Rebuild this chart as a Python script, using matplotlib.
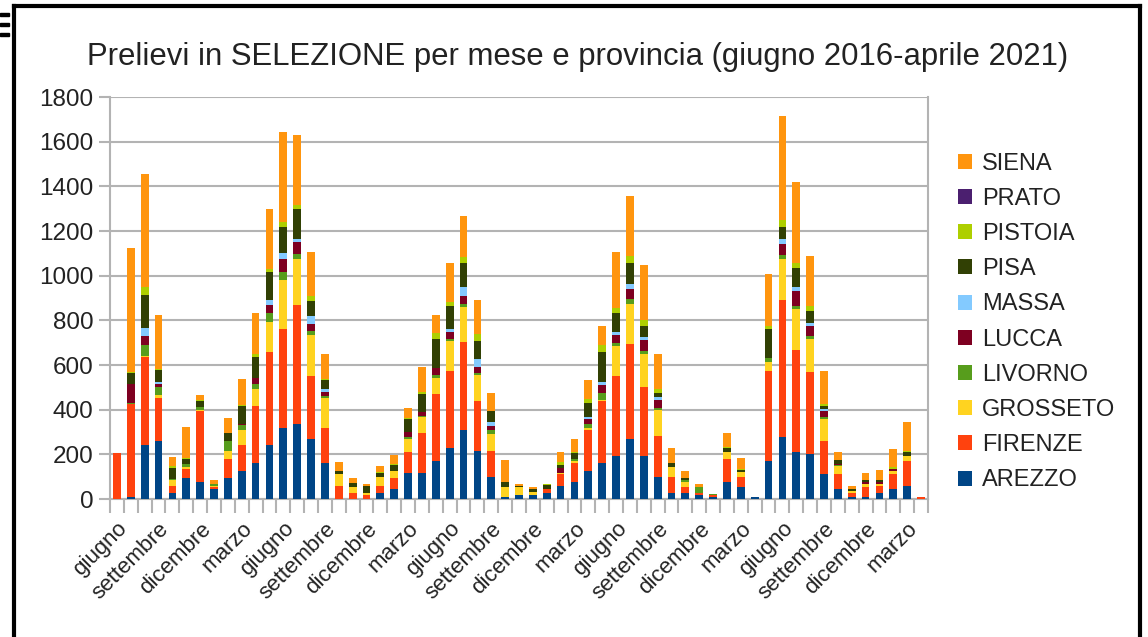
import matplotlib.pyplot as plt
from matplotlib.patches import Rectangle, Patch
from matplotlib.lines import Line2D
import numpy as np

plt.rcParams['font.family'] = ['Liberation Sans', 'DejaVu Sans']

# months giugno 2016 .. aprile 2021 (59 bars)
mesi = ['giugno', 'luglio', 'agosto', 'settembre', 'ottobre', 'novembre',
        'dicembre', 'gennaio', 'febbraio', 'marzo', 'aprile', 'maggio']
n_mesi = 59
month_labels = [mesi[i % 12] for i in range(n_mesi)]

province = ['AREZZO', 'FIRENZE', 'GROSSETO', 'LIVORNO', 'LUCCA',
            'MASSA', 'PISA', 'PISTOIA', 'PRATO', 'SIENA']
colori = ['#004586', '#ff420e', '#ffd320', '#579d1c', '#7e0021',
          '#83caff', '#314004', '#aecf00', '#4b1f6f', '#ff950e']

arezzo = [0, 10, 242, 260, 25, 94, 78, 43, 94, 127, 160, 242,
          317, 335, 268, 160, 0, 0, 0, 25, 43, 118, 118, 170,
          227, 309, 217, 100, 10, 18, 18, 25, 60, 78, 127, 160,
          193, 268, 193, 100, 25, 25, 18, 10, 78, 52, 10, 170,
          277, 209, 202, 111, 43, 10, 10, 25, 43, 60, 0]
firenze = [205, 416, 393, 191, 34, 40, 314, 12, 84, 115, 257, 416,
           444, 532, 284, 157, 60, 25, 18, 33, 49, 91, 176, 299,
           348, 392, 224, 117, 0, 0, 0, 18, 51, 82, 182, 277,
           359, 426, 308, 184, 75, 27, 10, 7, 100, 48, 0, 405,
           616, 459, 366, 149, 67, 18, 42, 34, 67, 108, 10]
grosseto = [0, 0, 6, 15, 25, 10, 7, 4, 39, 67, 75, 135,
            221, 208, 181, 135, 51, 27, 7, 42, 34, 58, 75, 72,
            133, 157, 115, 75, 42, 34, 15, 0, 7, 10, 10, 7,
            132, 181, 150, 115, 42, 25, 0, 0, 31, 19, 0, 40,
            182, 182, 148, 99, 39, 9, 15, 10, 16, 25, 0]
livorno = [0, 5, 49, 34, 4, 12, 15, 6, 43, 22, 24, 40,
           33, 24, 18, 7, 0, 0, 0, 0, 0, 9, 3, 15,
           7, 16, 10, 18, 0, 0, 0, 0, 0, 7, 15, 30,
           15, 22, 10, 7, 0, 8, 24, 7, 0, 3, 0, 18,
           16, 16, 16, 7, 4, 0, 0, 0, 0, 0, 0]
lucca = [0, 85, 42, 15, 0, 0, 0, 0, 0, 7, 25, 37,
         60, 51, 33, 18, 0, 0, 4, 0, 0, 25, 18, 30,
         34, 33, 27, 15, 0, 0, 0, 0, 19, 0, 24, 37,
         34, 43, 49, 37, 0, 0, 0, 0, 0, 0, 0, 0,
         51, 66, 43, 28, 4, 0, 10, 7, 10, 0, 0]
massa = [0, 0, 33, 10, 0, 0, 0, 0, 0, 0, 0, 22,
         27, 16, 34, 15, 0, 0, 0, 0, 0, 0, 0, 0,
         10, 42, 33, 18, 0, 0, 0, 0, 0, 0, 7, 15,
         15, 24, 15, 15, 0, 0, 0, 0, 0, 0, 0, 0,
         22, 16, 15, 7, 0, 0, 0, 0, 0, 0, 0]
pisa = [0, 49, 150, 52, 52, 25, 27, 0, 34, 78, 94, 124,
        115, 133, 67, 42, 16, 18, 27, 18, 25, 57, 78, 130,
        106, 108, 82, 49, 22, 7, 10, 19, 15, 31, 63, 132,
        85, 93, 51, 15, 18, 7, 0, 0, 18, 10, 0, 127,
        52, 85, 52, 16, 18, 10, 10, 10, 0, 16, 0]
pistoia = [0, 3, 34, 6, 7, 3, 3, 0, 3, 3, 15, 15,
           24, 16, 22, 3, 0, 0, 0, 4, 4, 4, 12, 27,
           15, 25, 31, 4, 0, 0, 0, 7, 15, 4, 22, 33,
           22, 33, 24, 18, 0, 4, 0, 0, 4, 3, 0, 15,
           34, 22, 24, 7, 0, 0, 0, 0, 7, 4, 0]
prato = [0] * n_mesi
siena = [3, 556, 507, 241, 43, 139, 22, 22, 67, 120, 182, 268,
         402, 317, 199, 112, 40, 22, 12, 27, 42, 45, 112, 82,
         175, 184, 152, 79, 100, 10, 9, 0, 42, 55, 82, 85,
         251, 266, 250, 158, 67, 30, 15, 0, 63, 48, 0, 232,
         463, 366, 224, 150, 34, 12, 30, 46, 82, 130, 0]

serie = [arezzo, firenze, grosseto, livorno, lucca,
         massa, pisa, pistoia, prato, siena]

fig = plt.figure(figsize=(11.48, 6.37), dpi=100)
ax = fig.add_axes([110 / 1148, 138 / 637, 818 / 1148, 402 / 637])

x = np.arange(n_mesi)
bottom = np.zeros(n_mesi)
for nome, vals, col in zip(province, serie, colori):
    ax.bar(x, vals, width=0.56, bottom=bottom, color=col, label=nome, zorder=3)
    bottom += np.array(vals)

ax.set_xlim(-0.5, n_mesi - 0.5)
ax.set_ylim(0, 1800)
ax.set_yticks(range(0, 1801, 200))
ax.yaxis.grid(True, color='#b3b3b3', linewidth=1.5, zorder=0)
ax.tick_params(axis='y', length=8, width=1.5, color='#b3b3b3',
               labelsize=17.5, labelcolor='#222222', pad=4)

# boundary ticks between months, labels every three months
ax.set_xticks(np.arange(-0.5, n_mesi, 1), minor=True)
ax.tick_params(axis='x', which='minor', length=10, width=1.5, color='#b3b3b3')
ax.set_xticks(x[::3])
ax.set_xticklabels(month_labels[::3], rotation=45, ha='right',
                   rotation_mode='anchor', fontsize=16, color='#222222')
ax.tick_params(axis='x', which='major', length=0, pad=14)

for s in ['left', 'bottom', 'right', 'top']:
    ax.spines[s].set_color('#b3b3b3')
    ax.spines[s].set_linewidth(1.5)
ax.spines['top'].set_visible(False)

fig.text(578 / 1148, 1 - 57 / 637,
         'Prelievi in SELEZIONE per mese e provincia (giugno 2016-aprile 2021)',
         ha='center', va='center', fontsize=22.4, color='#222222')

handles = [Patch(facecolor=c, edgecolor='none') for c in colori]
leg = fig.legend(handles[::-1], province[::-1], loc='center left',
                 bbox_to_anchor=(937 / 1148, 1 - 322 / 637), frameon=False,
                 fontsize=17, handlelength=0.6, handleheight=0.6,
                 handletextpad=0.4, labelspacing=0.56, labelcolor='#222222')

# outer frame
fig.add_artist(Line2D([14 / 1148, 14 / 1148], [0, 1 - 6 / 637],
                      color='black', linewidth=3, transform=fig.transFigure))
fig.add_artist(Line2D([14 / 1148, 1140 / 1148], [1 - 6 / 637, 1 - 6 / 637],
                      color='black', linewidth=3, transform=fig.transFigure))
fig.add_artist(Line2D([1140 / 1148, 1140 / 1148], [0, 1 - 6 / 637],
                      color='black', linewidth=3, transform=fig.transFigure))
for yy in [14, 24, 34]:
    fig.add_artist(Rectangle((0, 1 - (yy + 2) / 637), 9 / 1148, 3 / 637,
                             color='black', transform=fig.transFigure))

fig.savefig('out.png', dpi=100)
